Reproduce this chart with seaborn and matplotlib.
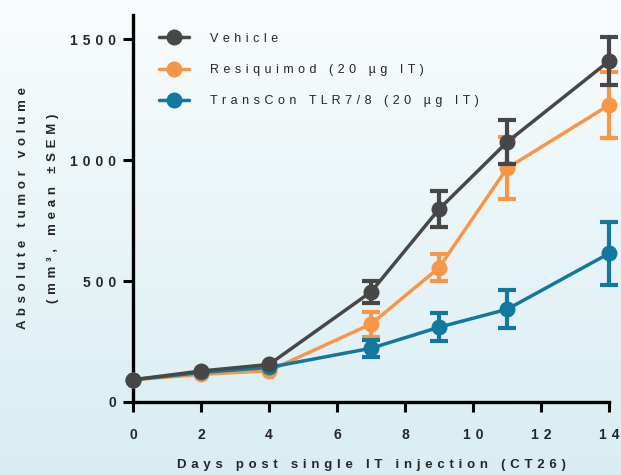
import numpy as np
import pandas as pd
import matplotlib
matplotlib.use("Agg")
import matplotlib.pyplot as plt
import seaborn as sns

# Tumour growth (CT26), mean and SEM per group
days = [0, 2, 4, 7, 9, 11, 14]
groups = ["Vehicle", "Resiquimod (20 µg IT)", "TransCon TLR7/8 (20 µg IT)"]
vehicle_mean = [92, 128, 155, 455, 797, 1074, 1409]
vehicle_sem = [0, 0, 0, 45, 75, 90, 98]
resiquimod_mean = [92, 114, 129, 322, 555, 966, 1227]
resiquimod_sem = [0, 0, 0, 52, 57, 128, 135]
transcon_mean = [92, 122, 143, 222, 309, 383, 614]
transcon_sem = [0, 0, 0, 35, 58, 78, 131]

colors = {"Vehicle": "#474747",
          "Resiquimod (20 µg IT)": "#f79646",
          "TransCon TLR7/8 (20 µg IT)": "#13789f"}

x_ticks = [0, 2, 4, 6, 8, 10, 12, 14]
y_ticks = [0, 500, 1000, 1500]

GAP = " \u200a"


def spaced(s, gap=GAP):
    return gap.join(s)


df = pd.DataFrame({
    "day": days * 3,
    "volume": vehicle_mean + resiquimod_mean + transcon_mean,
    "sem": vehicle_sem + resiquimod_sem + transcon_sem,
    "group": [groups[0]] * 7 + [groups[1]] * 7 + [groups[2]] * 7,
})

sns.set_style("ticks")
plt.rcParams["font.family"] = ["Liberation Sans", "DejaVu Sans"]

fig = plt.figure(figsize=(6.21, 4.75), dpi=100)

# soft vertical gradient behind everything
bg = fig.add_axes([0, 0, 1, 1], zorder=-10)
top = np.array([249, 252, 253]) / 255
bot = np.array([216, 237, 242]) / 255
t = np.linspace(0, 1, 256)[:, None]
grad = (top * (1 - t) + bot * t)[:, None, :]
bg.imshow(grad, aspect="auto", extent=[0, 1, 0, 1], origin="upper")
bg.axis("off")

ax = fig.add_axes([0.2142, 0.1537, 0.7665, 0.815])
ax.patch.set_alpha(0)

draw_order = [groups[1], groups[2], groups[0]]
for z, g in enumerate(draw_order):
    sub = df[df["group"] == g]
    err = sub[sub["sem"] > 0]
    ax.errorbar(err["day"], err["volume"], yerr=err["sem"], fmt="none",
                ecolor=colors[g], elinewidth=3.0, capsize=6.5, capthick=3.0,
                zorder=3 + z * 2, clip_on=False)
    sns.lineplot(data=sub, x="day", y="volume", ax=ax, color=colors[g],
                 linewidth=2.5, marker="o", markersize=11.5, markeredgewidth=0,
                 zorder=4 + z * 2, clip_on=False, legend=False)

ax.set_xlim(0, 14)
ax.set_ylim(0, 1600)
ax.set_xticks(x_ticks)
ax.set_yticks(y_ticks)
ax.set_xticklabels([spaced(str(v)) for v in x_ticks], fontsize=10, fontweight="bold")
ax.set_yticklabels([spaced(str(v)) for v in y_ticks], fontsize=10, fontweight="bold")
ax.tick_params(axis="both", direction="out", length=7, width=2.2, color="black")
ax.tick_params(axis="x", pad=12)
ax.tick_params(axis="y", pad=5)
sns.despine(ax=ax)
for s in ("left", "bottom"):
    ax.spines[s].set_linewidth(2.4)
    ax.spines[s].set_color("black")

ax.set_xlabel(spaced("Days post single IT injection (CT26)"), fontsize=9.5,
              fontweight="bold", labelpad=12)
ax.set_ylabel(spaced("Absolute tumor volume") + "\n" + spaced("(mm³, mean ±SEM)"),
              fontsize=9.5, fontweight="bold", labelpad=8, linespacing=3.0)

handles = [plt.Line2D([], [], color=colors[g], lw=2.5, marker="o", markersize=11.5,
                      markeredgewidth=0) for g in groups]
ax.legend(handles, [spaced(g) for g in groups], loc="upper left",
          bbox_to_anchor=(0.03, 0.983), frameon=False, fontsize=9,
          handlelength=2.4, handletextpad=1.7, labelspacing=1.55)

fig.savefig("out.png", dpi=100)
